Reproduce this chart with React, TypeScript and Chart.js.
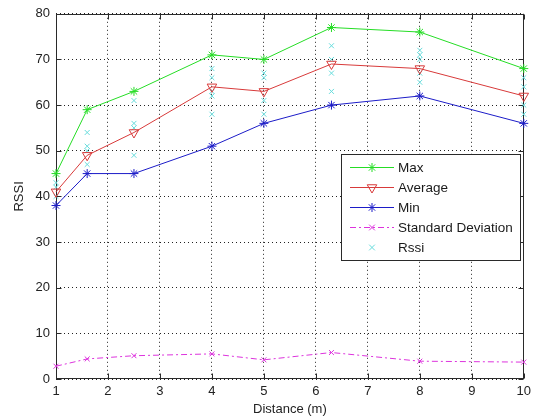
import React, { useEffect, useRef } from 'react';
import { Chart, registerables } from 'chart.js';

Chart.register(...registerables);

// ---- Data ----
const distances = [1, 1.6, 2.5, 4, 5, 6.3, 8, 10];
const maxValues = [45, 59, 63, 71, 70, 77, 76, 68];
const averageValues = [41, 49, 54, 64, 63, 69, 68, 62];
const minValues = [38, 45, 45, 51, 56, 60, 62, 56];
const stdValues = [2.8, 4.4, 5.1, 5.5, 4.2, 5.8, 3.9, 3.7];
const rssiSamples = [
  [43, 42, 40],
  [54, 51, 50, 47],
  [61, 56, 55, 49],
  [68, 66, 63, 62, 58],
  [67, 66, 61, 58],
  [73, 70, 67, 63],
  [72, 71, 70, 67, 65],
  [66, 64, 60, 58],
];
const xTickValues = [1, 2, 3, 4, 5, 6, 7, 8, 9, 10];
const yTickValues = [0, 10, 20, 30, 40, 50, 60, 70, 80];
const seriesNames = ['Max', 'Average', 'Min', 'Standard Deviation', 'Rssi'];

const GREEN = '#25dd25';
const RED = '#d83a3a';
const BLUE = '#1c1cc8';
const MAGENTA = '#dd33dd';
const CYAN = '#66dcdc';
const FONT = "'Liberation Sans', Arial, sans-serif";

function drawMarker(ctx: CanvasRenderingContext2D, style: string, x: number, y: number, r: number, color: string) {
  ctx.save();
  ctx.strokeStyle = color;
  ctx.lineWidth = 1;
  ctx.setLineDash([]);
  ctx.beginPath();
  if (style === 'star') {
    ctx.moveTo(x - r, y); ctx.lineTo(x + r, y);
    ctx.moveTo(x, y - r); ctx.lineTo(x, y + r);
    const d = r * 0.7071;
    ctx.moveTo(x - d, y - d); ctx.lineTo(x + d, y + d);
    ctx.moveTo(x - d, y + d); ctx.lineTo(x + d, y - d);
  } else if (style === 'triangleDown') {
    const s = Math.sin(Math.PI / 3) * r;
    ctx.moveTo(x, y + r);
    ctx.lineTo(x - s, y - r / 2);
    ctx.lineTo(x + s, y - r / 2);
    ctx.closePath();
  } else if (style === 'crossRot') {
    const d = r * 0.7071;
    ctx.moveTo(x - d, y - d); ctx.lineTo(x + d, y + d);
    ctx.moveTo(x - d, y + d); ctx.lineTo(x + d, y - d);
  }
  ctx.stroke();
  ctx.restore();
}

const framePlugin = {
  id: 'matlabFrame',
  beforeDatasetsDraw(chart: any) {
    const { ctx, chartArea, scales } = chart;
    const l = Math.round(chartArea.left) + 0.5;
    const r = Math.round(chartArea.right) - 0.5;
    const t = Math.round(chartArea.top) + 0.5;
    const b = Math.round(chartArea.bottom) - 0.5;
    ctx.save();
    ctx.strokeStyle = '#2a2a2a';
    ctx.lineWidth = 1;
    ctx.setLineDash([]);
    ctx.strokeRect(l, t, r - l, b - t);
    const tl = 5;
    ctx.beginPath();
    xTickValues.forEach((v) => {
      const px = Math.round(scales.x.getPixelForValue(v)) + 0.5;
      ctx.moveTo(px, b); ctx.lineTo(px, b - tl);
      ctx.moveTo(px, t); ctx.lineTo(px, t + tl);
    });
    yTickValues.forEach((v) => {
      const py = Math.round(scales.y.getPixelForValue(v)) + 0.5;
      ctx.moveTo(l, py); ctx.lineTo(l + tl, py);
      ctx.moveTo(r, py); ctx.lineTo(r - tl, py);
    });
    ctx.stroke();
    ctx.restore();
  },
  afterDraw(chart: any) {
    const { ctx } = chart;
    const boxL = 341.5, boxT = 154.5, boxW = 179, boxH = 106;
    ctx.save();
    ctx.fillStyle = '#ffffff';
    ctx.fillRect(boxL, boxT, boxW, boxH);
    ctx.strokeStyle = '#2a2a2a';
    ctx.lineWidth = 1;
    ctx.strokeRect(boxL, boxT, boxW, boxH);
    const rows = [167.5, 187.5, 207.5, 227.5, 247.5];
    const styles = [
      { color: GREEN, marker: 'star', r: 4.5, line: true, dash: [] as number[] },
      { color: RED, marker: 'triangleDown', r: 5.5, line: true, dash: [] },
      { color: BLUE, marker: 'star', r: 4.5, line: true, dash: [] },
      { color: MAGENTA, marker: 'crossRot', r: 4, line: true, dash: [6, 3, 2, 3] },
      { color: CYAN, marker: 'crossRot', r: 4, line: false, dash: [] },
    ];
    ctx.font = `13.5px ${FONT}`;
    ctx.textBaseline = 'middle';
    ctx.textAlign = 'left';
    rows.forEach((y, i) => {
      const s = styles[i];
      if (s.line) {
        ctx.save();
        ctx.strokeStyle = s.color;
        ctx.lineWidth = 1;
        ctx.setLineDash(s.dash);
        ctx.beginPath();
        ctx.moveTo(350, y);
        ctx.lineTo(394, y);
        ctx.stroke();
        ctx.restore();
      }
      drawMarker(ctx, s.marker, 372, y, s.r, s.color);
      ctx.fillStyle = '#1a1a1a';
      ctx.fillText(seriesNames[i], 398, y + 0.5);
    });
    ctx.restore();
  },
};

export default function App() {
  const canvasRef = useRef<HTMLCanvasElement | null>(null);

  useEffect(() => {
    if (!canvasRef.current) return;
    const toPoints = (vals: number[]) => distances.map((d, i) => ({ x: d, y: vals[i] }));
    const rssiPoints: { x: number; y: number }[] = [];
    rssiSamples.forEach((arr, i) => arr.forEach((v) => rssiPoints.push({ x: distances[i], y: v })));

    const common = { borderWidth: 1, tension: 0, clip: false as any, pointBorderWidth: 1 };

    const chart = new Chart(canvasRef.current, {
      type: 'line',
      data: {
        datasets: [
          {
            ...common,
            label: seriesNames[0],
            data: toPoints(maxValues),
            borderColor: GREEN,
            pointBorderColor: GREEN,
            pointBackgroundColor: GREEN,
            pointStyle: 'star',
            pointRadius: 4.5,
          },
          {
            ...common,
            label: seriesNames[1],
            data: toPoints(averageValues),
            borderColor: RED,
            pointBorderColor: RED,
            pointBackgroundColor: 'rgba(0,0,0,0)',
            pointStyle: 'triangle',
            pointRotation: 180,
            pointRadius: 5.5,
          },
          {
            ...common,
            label: seriesNames[2],
            data: toPoints(minValues),
            borderColor: BLUE,
            pointBorderColor: BLUE,
            pointBackgroundColor: BLUE,
            pointStyle: 'star',
            pointRadius: 4.5,
          },
          {
            ...common,
            label: seriesNames[3],
            data: toPoints(stdValues),
            borderColor: MAGENTA,
            borderDash: [6, 3, 2, 3],
            pointBorderColor: MAGENTA,
            pointBackgroundColor: MAGENTA,
            pointStyle: 'crossRot',
            pointRadius: 3.5,
          },
          {
            ...common,
            label: seriesNames[4],
            data: rssiPoints,
            showLine: false,
            borderColor: CYAN,
            pointBorderColor: CYAN,
            pointBackgroundColor: CYAN,
            pointStyle: 'crossRot',
            pointRadius: 3.5,
            order: 10,
          },
        ],
      },
      options: {
        animation: false,
        responsive: false,
        devicePixelRatio: 1,
        layout: { padding: { top: 11, right: 11, left: 0, bottom: 0 } },
        plugins: {
          legend: { display: false },
          tooltip: { enabled: false },
        },
        scales: {
          x: {
            type: 'linear',
            min: 1,
            max: 10,
            afterFit: (s: any) => { s.height = 40; },
            afterBuildTicks: (s: any) => { s.ticks = xTickValues.map((v) => ({ value: v })); },
            ticks: {
              padding: 5,
              color: '#222',
              font: { family: FONT, size: 13 },
              callback: (v: any) => String(v),
            },
            grid: { color: '#222', lineWidth: 1, drawTicks: false },
            border: { display: false, dash: [1, 3] },
            title: {
              display: true,
              text: 'Distance (m)',
              color: '#222',
              font: { family: FONT, size: 13 },
              padding: { top: 0, bottom: 2 },
            },
          },
          y: {
            type: 'linear',
            min: 0,
            max: 80,
            afterFit: (s: any) => { s.width = 56; },
            afterBuildTicks: (s: any) => { s.ticks = yTickValues.map((v) => ({ value: v })); },
            ticks: {
              padding: 6,
              color: '#222',
              font: { family: FONT, size: 13 },
              callback: (v: any) => String(v),
            },
            grid: { color: '#222', lineWidth: 1, drawTicks: false },
            border: { display: false, dash: [1, 3] },
            title: {
              display: true,
              text: 'RSSI',
              color: '#222',
              font: { family: FONT, size: 13 },
              padding: { top: 12, bottom: 0 },
            },
          },
        },
      },
      plugins: [framePlugin],
    } as any);

    return () => chart.destroy();
  }, []);

  return (
    <div style={{ position: 'fixed', left: 0, top: 0, width: 536, height: 419, background: '#fff' }}>
      <canvas ref={canvasRef} width={536} height={419} style={{ display: 'block' }} />
    </div>
  );
}
